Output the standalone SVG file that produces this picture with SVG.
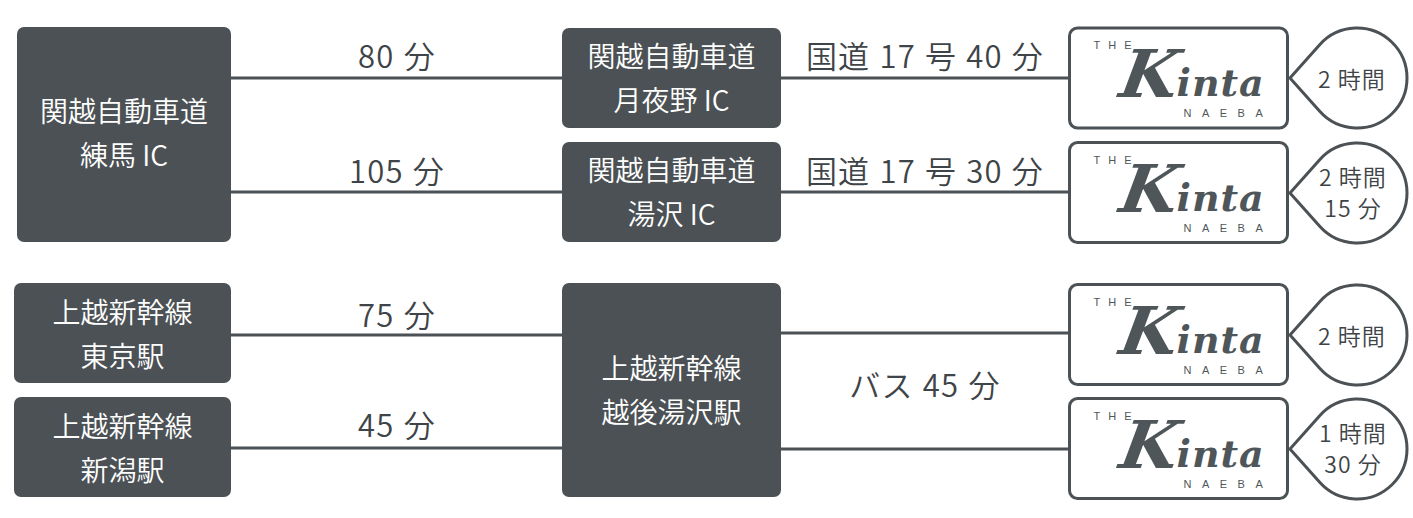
<svg xmlns="http://www.w3.org/2000/svg" xmlns:xlink="http://www.w3.org/1999/xlink" width="1413" height="518" viewBox="0 0 1413 518">
<style>
.box{fill:#4b5154;}
.ntext{font-family:"Noto Sans CJK JP","Noto Sans",sans-serif;font-size:28px;font-weight:350;fill:#ffffff;text-anchor:middle;}
.lbl{font-family:"Noto Sans CJK JP","Noto Sans",sans-serif;font-size:31px;font-weight:350;fill:#3e4447;text-anchor:middle;letter-spacing:1.2px;word-spacing:1px;}
.conn{stroke:#4b5154;stroke-width:3;fill:none;}
.kbox{fill:#ffffff;stroke:#4b5154;stroke-width:3;}
.drop{fill:#ffffff;stroke:#4b5154;stroke-width:3;stroke-linejoin:round;}
.dtext{font-family:"Noto Sans CJK JP","Noto Sans",sans-serif;font-size:23px;font-weight:350;fill:#3e4447;text-anchor:middle;letter-spacing:1px;}
.small{font-family:"Liberation Sans",sans-serif;font-size:11px;fill:#4f5659;}
.brand{font-family:"DejaVu Serif",serif;font-weight:bold;font-style:italic;fill:#4f5659;}
</style>
<defs>
<path id="dropShape" class="drop" d="M -67 0 L -37.3 -33.3 A 50 50 0 1 1 -37.3 33.3 Z"/>
<g id="logo">
<rect class="kbox" x="0" y="0" width="218" height="100" rx="8"/>
<text class="small" x="24" y="21" letter-spacing="8">THE</text>
<text class="brand" transform="translate(48,69) skewX(-10)" x="0" y="0" font-size="66">K</text>
<text class="brand" x="107" y="68" font-size="38" letter-spacing="1">inta</text>
<text class="small" x="114" y="89" letter-spacing="10.5">NAEBA</text>
</g>
</defs>

<g id="connectors">
<line class="conn" x1="231" y1="78" x2="562" y2="78"/>
<line class="conn" x1="231" y1="192" x2="562" y2="192"/>
<line class="conn" x1="781" y1="78" x2="1069" y2="78"/>
<line class="conn" x1="781" y1="192" x2="1069" y2="192"/>
<line class="conn" x1="231" y1="335" x2="562" y2="335"/>
<line class="conn" x1="231" y1="448" x2="562" y2="448"/>
<line class="conn" x1="781" y1="333" x2="1069" y2="333"/>
<line class="conn" x1="781" y1="449" x2="1069" y2="449"/>
<text class="lbl" x="397" y="68">80 分</text>
<text class="lbl" x="397" y="183">105 分</text>
<text class="lbl" x="925" y="68">国道 17 号 40 分</text>
<text class="lbl" x="925" y="183">国道 17 号 30 分</text>
<text class="lbl" x="397" y="327">75 分</text>
<text class="lbl" x="397" y="437">45 分</text>
<text class="lbl" x="925" y="397">バス 45 分</text>
</g>

<g id="nerima">
<rect class="box" x="17" y="27" width="214" height="215" rx="7"/>
<text class="ntext" x="124" y="122">関越自動車道</text>
<text class="ntext" x="124" y="166">練馬 IC</text>
</g>
<g id="tsukiyono">
<rect class="box" x="562" y="28" width="219" height="100" rx="7"/>
<text class="ntext" x="671.5" y="67">関越自動車道</text>
<text class="ntext" x="671.5" y="111">月夜野 IC</text>
</g>
<g id="yuzawa-ic">
<rect class="box" x="562" y="142" width="219" height="100" rx="7"/>
<text class="ntext" x="671.5" y="181">関越自動車道</text>
<text class="ntext" x="671.5" y="225">湯沢 IC</text>
</g>
<g id="tokyo">
<rect class="box" x="14" y="283" width="217" height="100" rx="7"/>
<text class="ntext" x="122.5" y="323">上越新幹線</text>
<text class="ntext" x="122.5" y="367">東京駅</text>
</g>
<g id="niigata">
<rect class="box" x="14" y="397" width="217" height="100" rx="7"/>
<text class="ntext" x="122.5" y="437">上越新幹線</text>
<text class="ntext" x="122.5" y="481">新潟駅</text>
</g>
<g id="echigo-yuzawa">
<rect class="box" x="562" y="283" width="219" height="214" rx="7"/>
<text class="ntext" x="671.5" y="379">上越新幹線</text>
<text class="ntext" x="671.5" y="423">越後湯沢駅</text>
</g>

<g id="kinta1"><use xlink:href="#logo" href="#logo" transform="translate(1069.5,28)"/></g>
<g id="kinta2"><use xlink:href="#logo" href="#logo" transform="translate(1069.5,142.5)"/></g>
<g id="kinta3"><use xlink:href="#logo" href="#logo" transform="translate(1069.5,284.5)"/></g>
<g id="kinta4"><use xlink:href="#logo" href="#logo" transform="translate(1069.5,398.5)"/></g>

<g id="time1">
<use xlink:href="#dropShape" href="#dropShape" transform="translate(1357,78)"/>
<text class="dtext" x="1352" y="88">2 時間</text>
</g>
<g id="time2">
<use xlink:href="#dropShape" href="#dropShape" transform="translate(1357,193)"/>
<text class="dtext" x="1353" y="186">2 時間</text>
<text class="dtext" x="1353" y="217">15 分</text>
</g>
<g id="time3">
<use xlink:href="#dropShape" href="#dropShape" transform="translate(1357,335)"/>
<text class="dtext" x="1352" y="345">2 時間</text>
</g>
<g id="time4">
<use xlink:href="#dropShape" href="#dropShape" transform="translate(1357,449)"/>
<text class="dtext" x="1353" y="442">1 時間</text>
<text class="dtext" x="1353" y="473">30 分</text>
</g>
</svg>
